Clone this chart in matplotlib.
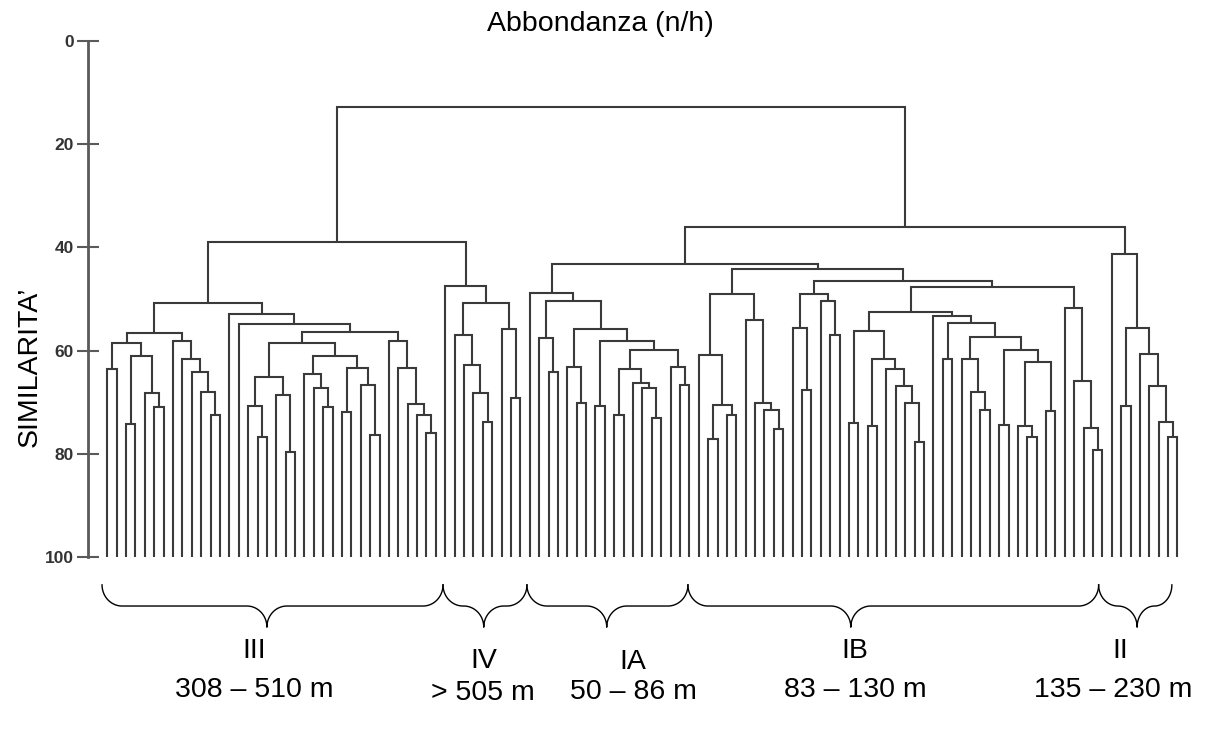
import matplotlib
matplotlib.use('Agg')
import matplotlib.pyplot as plt
from matplotlib.collections import LineCollection
import numpy as np

plt.rcParams['font.family'] = ['Liberation Sans', 'DejaVu Sans']

# ---------------- data ----------------
title = 'Abbondanza (n/h)'
ylabel = 'SIMILARITA\u2019'
yticks = [0, 20, 40, 60, 80, 100]

# Tree pieces, Newick-like: (child,child):similarity ; 'x' = one sample (leaf at 100)
III_a = "(((x,x):63.6,((x,x):74.3,(x,(x,x):71.0):68.3):61.1):58.5,(x,(x,(x,(x,(x,x):72.5):68.1):64.1):61.7):58.1):56.5"
III_c = "(((x,(x,x):76.7):70.7,(x,(x,x):79.6):68.7):65.1,((x,(x,(x,x):71.0):67.2):64.5,((x,x):71.9,(x,(x,x):76.3):66.7):63.3):61.1):58.5"
III_d = "(x,(x,(x,(x,(x,x):76.0):72.5):70.4):63.3):58.1"
III_b = "(x,(x,(III_c,III_d):56.4):54.8):53.0"
III = "(III_a,III_b):50.7"

IV = "(x,((x,(x,(x,(x,x):73.8):68.3):62.7):57.0,(x,(x,x):69.1):55.8):50.7):47.4"

IA_u = "((x,x):72.5,(x,(x,(x,x):73.0):67.2):66.2):63.6"
IA = "(x,((x,(x,x):64.2):57.5,((x,(x,x):70.1):63.1,((x,x):70.7,(IA_u,(x,(x,x):66.7):63.1):59.9):58.1):55.8):50.4):48.9"

IB_a = "((x,((x,x):77.2,(x,x):72.5):70.6):60.9,(x,(x,(x,(x,x):75.1):71.5):70.1):54.0):49.1"
IB_c = "((x,(x,x):67.7):55.7,(x,(x,x):56.9):50.4):49.1"
IB_e1 = "((x,x):74.0,((x,x):74.6,(x,(x,(x,(x,x):77.8):70.1):66.9):63.6):61.6):56.2"
IB_e2 = "(x,((x,x):61.6,((x,(x,(x,x):71.5):68.0):61.6,((x,x):74.4,((x,(x,x):76.8):74.6,(x,x):71.8):62.2):59.8):57.3):54.6):53.3"
IB_f = "(x,(x,(x,(x,x):79.2):75.0):65.9):51.7"
IB = "(IB_a,(IB_c,((IB_e1,IB_e2):52.5,IB_f):47.6):46.6):44.2"

II = "(x,((x,x):70.7,(x,(x,(x,(x,x):76.7):73.8):66.9):60.7):55.7):41.3"

ROOT = "((III,IV):38.9,((IA,IB):43.2,II):36.0):12.8"

parts = dict(III_a=III_a, III_b=III_b, III_c=III_c, III_d=III_d, III=III, IV=IV,
             IA_u=IA_u, IA=IA, IB_a=IB_a, IB_c=IB_c, IB_e1=IB_e1, IB_e2=IB_e2,
             IB_f=IB_f, IB=IB, II=II)

groups = ['III', 'IV', 'IA', 'IB', 'II']
depths = ['308 \u2013 510 m', '> 505 m', '50 \u2013 86 m', '83 \u2013 130 m', '135 \u2013 230 m']

# ---------------- parse tree ----------------
def parse(s, pos=0):
    if s[pos] == '(':
        pos += 1
        kids = []
        while True:
            node, pos = parse(s, pos)
            kids.append(node)
            if s[pos] == ',':
                pos += 1
                continue
            if s[pos] == ')':
                pos += 1
                break
        pos += 1  # ':'
        j = pos
        while j < len(s) and (s[j].isdigit() or s[j] == '.'):
            j += 1
        return {'kids': kids, 'h': float(s[pos:j])}, j
    j = pos
    while j < len(s) and s[j] not in ',():':
        j += 1
    name = s[pos:j]
    if name == 'x':
        return {'kids': [], 'h': 100.0}, j
    return parse(parts[name], 0)[0], j

root, _ = parse(ROOT)

counter = [0]
segs = []

def layout(node):
    if not node['kids']:
        node['x'] = counter[0]
        counter[0] += 1
        return
    for k in node['kids']:
        layout(k)
    xs = [k['x'] for k in node['kids']]
    node['x'] = float(np.mean(xs))
    a, b = node['kids'][0], node['kids'][-1]
    segs.append([(a['x'], a['h']), (a['x'], node['h']), (b['x'], node['h']), (b['x'], b['h'])])

layout(root)
n_leaves = counter[0]

# ---------------- figure ----------------
W, H = 1218, 733
fig = plt.figure(figsize=(W / 100, H / 100), dpi=100)
x_first, x_last = 107.3, 1177.5
step = (x_last - x_first) / (n_leaves - 1)
ax_left_px, ax_right_px = 88, 1200
ax = fig.add_axes([ax_left_px / W, (H - 557) / H, (ax_right_px - ax_left_px) / W, 516 / H])
ax.set_xlim((ax_left_px - x_first) / step, (ax_right_px - x_first) / step)
ax.set_ylim(100, 0)

lc = LineCollection(segs, colors='#3a3a3a', linewidths=1.5, joinstyle='miter', capstyle='butt')
ax.add_collection(lc)

for sp in ['top', 'right', 'bottom']:
    ax.spines[sp].set_visible(False)
ax.spines['left'].set_color('#5a5a5a')
ax.spines['left'].set_linewidth(2)
ax.set_xticks([])
ax.set_yticks(yticks)
ax.tick_params(axis='y', direction='inout', length=16, width=1.5, color='#5a5a5a',
               labelsize=12.5, labelcolor='#333333', pad=2)
for t in ax.get_yticklabels():
    t.set_fontweight('bold')

fig.text(30 / W, 1 - 367 / H, ylabel, rotation=90, ha='center', va='center', fontsize=20.5)
fig.text(600 / W, 1 - 24 / H, title, ha='center', va='center', fontsize=20.5)

# ---------------- braces ----------------
brace_start = [-0.56, 35.76, 44.7, 61.85, 105.6]
brace_end = [35.76, 44.7, 61.85, 105.6, 113.4]
brace_tip = [17.0, 40.1, 53.2, 79.2, 109.7]
y_top, y_mid, y_tip = 105.4, 109.5, 113.6
ry = y_mid - y_top
t = np.linspace(0, np.pi / 2, 30)

def half(xe, xt):
    s = np.sign(xt - xe)
    rx = min(2.13, abs(xt - xe) / 2.0)
    x1 = xe + s * rx * (1 - np.cos(t))
    y1 = y_top + ry * np.sin(t)
    x2 = xt - s * rx + s * rx * np.sin(t)
    y2 = y_mid + ry * (1 - np.cos(t))
    return np.concatenate([x1, x2]), np.concatenate([y1, y2])

for xs, xe, xt in zip(brace_start, brace_end, brace_tip):
    lx, ly = half(xs, xt)
    rxp, ryp = half(xe, xt)
    bx = np.concatenate([lx, rxp[::-1]])
    by = np.concatenate([ly, ryp[::-1]])
    ax.plot(bx, by, color='black', lw=1.0, clip_on=False)

name_pos = [(254, 651), (484, 661), (633, 662), (855, 651), (1120, 651)]
depth_pos = [(254, 690), (483, 693), (633, 692), (855, 690), (1113, 690)]
for g, d, (nx, ny), (dx, dy) in zip(groups, depths, name_pos, depth_pos):
    fig.text(nx / W, 1 - ny / H, g, ha='center', va='center', fontsize=20.5)
    fig.text(dx / W, 1 - dy / H, d, ha='center', va='center', fontsize=20.5)

fig.savefig('out.png', dpi=100)
